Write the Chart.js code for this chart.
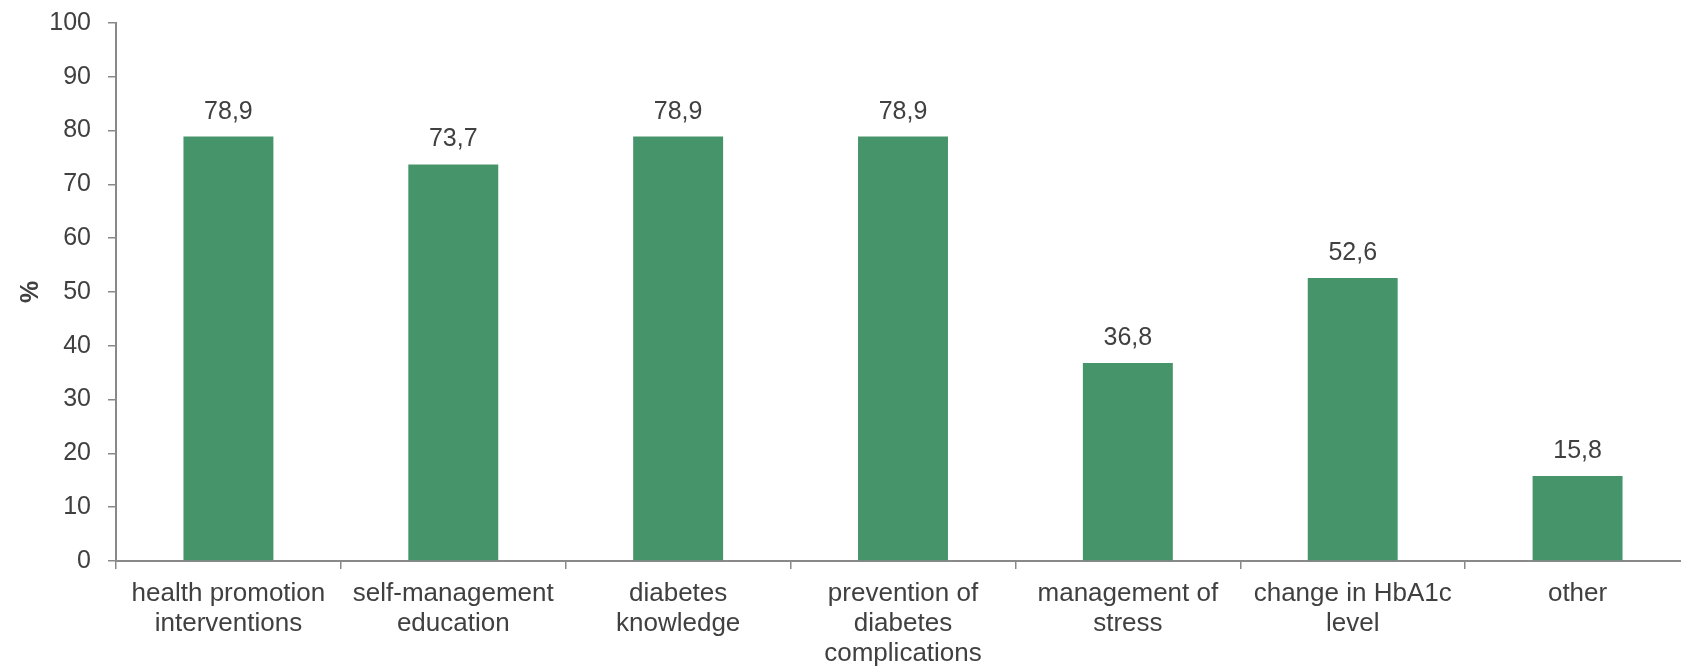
<!DOCTYPE html>
<html lang="en">
<head>
    <meta charset="UTF-8">
    <title>Outcomes</title>
    <script src="https://cdn.jsdelivr.net/npm/chart.js"></script>
    <style>
        html, body { margin: 0; padding: 0; background: #fff; overflow: hidden; }
        #wrap { width: 1681px; height: 669px; overflow: hidden; }
        canvas#outcome-chart { display: block; }
    </style>
</head>
<body>
    <div id="wrap">
        <canvas id="outcome-chart" width="1690" height="669"></canvas>
    </div>

    <script>
        // categories (multi-line labels) and percentages
        const categories = [
            ['health promotion', 'interventions'],
            ['self-management', 'education'],
            ['diabetes', 'knowledge'],
            ['prevention of', 'diabetes', 'complications'],
            ['management of', 'stress'],
            ['change in HbA1c', 'level'],
            ['other']
        ];
        const percentages = [78.9, 73.7, 78.9, 78.9, 36.8, 52.6, 15.8];
        const yTicks = [0, 10, 20, 30, 40, 50, 60, 70, 80, 90, 100];

        const textColor = '#404040';
        const axisColor = '#898989';
        const barColor = '#46956A';

        // values written above each bar, with a decimal comma
        const valueLabels = {
            id: 'valueLabels',
            afterDatasetsDraw(chart) {
                const ctx = chart.ctx;
                const meta = chart.getDatasetMeta(0);
                ctx.save();
                ctx.font = '25px "Liberation Sans", Arial, sans-serif';
                ctx.fillStyle = textColor;
                ctx.textAlign = 'center';
                ctx.textBaseline = 'alphabetic';
                meta.data.forEach((bar, i) => {
                    const txt = percentages[i].toFixed(1).replace('.', ',');
                    ctx.fillText(txt, bar.x, bar.y - 18);
                });
                ctx.restore();
            }
        };

        new Chart(document.getElementById('outcome-chart'), {
            type: 'bar',
            data: {
                labels: categories,
                datasets: [{
                    data: percentages,
                    backgroundColor: barColor,
                    borderWidth: 0,
                    categoryPercentage: 1,
                    barPercentage: 0.4
                }]
            },
            options: {
                responsive: false,
                animation: false,
                layout: { padding: { top: 23, right: 0, bottom: 0, left: 0 } },
                plugins: {
                    legend: { display: false },
                    tooltip: { enabled: false }
                },
                scales: {
                    x: {
                        offset: true,
                        grid: {
                            offset: true,
                            drawOnChartArea: false,
                            drawTicks: true,
                            tickLength: 8,
                            color: axisColor,
                            lineWidth: 1.5
                        },
                        border: { color: axisColor, width: 2 },
                        ticks: {
                            color: textColor,
                            padding: 10,
                            maxRotation: 0,
                            autoSkip: false,
                            font: { family: '"Liberation Sans", Arial, sans-serif', size: 26, lineHeight: 1.15 }
                        },
                        afterFit(scale) { scale.height = 108; }
                    },
                    y: {
                        min: 0,
                        max: 100,
                        afterBuildTicks(scale) { scale.ticks = yTicks.map(v => ({ value: v })); },
                        grid: {
                            drawOnChartArea: false,
                            drawTicks: true,
                            tickLength: 8,
                            color: axisColor,
                            lineWidth: 1.5
                        },
                        border: { color: axisColor, width: 2 },
                        ticks: {
                            color: textColor,
                            padding: 17,
                            font: { family: '"Liberation Sans", Arial, sans-serif', size: 25 }
                        },
                        title: {
                            display: true,
                            text: '%',
                            color: textColor,
                            padding: { top: 16, bottom: 0 },
                            font: { family: '"Liberation Sans", Arial, sans-serif', size: 25, weight: 'bold' }
                        },
                        afterFit(scale) {
                            scale.width = 116;
                            scale.paddingTop = 0;
                            scale.paddingBottom = 0;
                        }
                    }
                }
            },
            plugins: [valueLabels]
        });
    </script>
</body>
</html>
